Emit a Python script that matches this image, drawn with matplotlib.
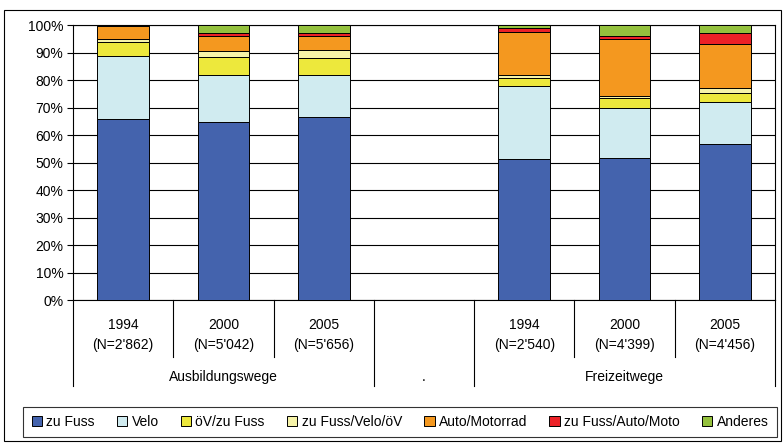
import matplotlib.pyplot as plt
from matplotlib.patches import Rectangle
from matplotlib.transforms import blended_transform_factory

plt.rcParams['font.family'] = ['Liberation Sans', 'DejaVu Sans']

# categories (middle slot is the empty "." group)
positions = [0, 1, 2, 4, 5, 6]
years = ['1994', '2000', '2005', '1994', '2000', '2005']
sample_sizes = ["(N=2'862)", "(N=5'042)", "(N=5'656)",
                "(N=2'540)", "(N=4'399)", "(N=4'456)"]
groups = ['Ausbildungswege', '.', 'Freizeitwege']

# shares in percent, per mode
modes = ['zu Fuss', 'Velo', 'öV/zu Fuss', 'zu Fuss/Velo/öV',
         'Auto/Motorrad', 'zu Fuss/Auto/Moto', 'Anderes']
zu_fuss = [65.7, 64.8, 66.4, 51.3, 51.5, 56.7]
velo = [23.2, 17.0, 15.4, 26.6, 18.2, 15.4]
oev_zu_fuss = [5.0, 6.7, 6.3, 2.9, 3.6, 3.1]
fuss_velo_oev = [1.0, 2.0, 2.8, 1.0, 1.0, 1.8]
auto_motorrad = [4.6, 5.6, 5.1, 15.8, 20.5, 16.0]
fuss_auto_moto = [0.2, 1.0, 1.0, 1.4, 1.3, 4.1]
anderes = [0.3, 2.9, 3.0, 1.0, 3.9, 2.9]

series = [zu_fuss, velo, oev_zu_fuss, fuss_velo_oev,
          auto_motorrad, fuss_auto_moto, anderes]
colors = ['#4463ad', '#d0ebf0', '#ede83c', '#f6f3a8',
          '#f4981f', '#ec2127', '#94c13d']

FS = 10

fig = plt.figure(figsize=(7.84, 4.44), dpi=100)
ax = fig.add_axes([73 / 784, 144 / 444, 702 / 784, 275 / 444])

bottom = [0.0] * len(positions)
handles = []
for vals, col, lab in zip(series, colors, modes):
    bars = ax.bar(positions, vals, bottom=bottom, width=0.515, color=col,
                  edgecolor='black', linewidth=0.7, label=lab, zorder=3)
    handles.append(bars)
    bottom = [b + v for b, v in zip(bottom, vals)]

ax.set_xlim(-0.5, 6.5)
ax.set_ylim(0, 100)
ax.set_yticks(range(0, 101, 10))
ax.set_yticklabels([f'{t}%' for t in range(0, 101, 10)], fontsize=FS)
ax.yaxis.grid(True, color='black', linewidth=0.8)
ax.set_axisbelow(True)
ax.tick_params(axis='y', direction='out', length=4, width=0.8, pad=3)
ax.set_xticks([])
for side in ['left', 'right', 'bottom', 'top']:
    ax.spines[side].set_linewidth(0.8)

# multi-level category axis
trans = blended_transform_factory(ax.transData, ax.transAxes)
for xb in [-0.5, 2.5, 3.5, 6.5]:
    ax.plot([xb, xb], [0, -0.313], color='black', lw=0.8,
            transform=trans, clip_on=False)
for xb in [0.5, 1.5, 4.5, 5.5]:
    ax.plot([xb, xb], [0, -0.207], color='black', lw=0.8,
            transform=trans, clip_on=False)
for x, yr, n in zip(positions, years, sample_sizes):
    ax.text(x, -0.09, yr, transform=trans, ha='center', va='center', fontsize=FS)
    ax.text(x, -0.165, n, transform=trans, ha='center', va='center', fontsize=FS)
for x, g in zip([1, 3, 5], groups):
    ax.text(x, -0.28, g, transform=trans, ha='center', va='center', fontsize=FS)

leg = fig.legend(handles, modes, loc='center',
                 bbox_to_anchor=(400 / 784, 1 - 422 / 444), ncol=7,
                 fontsize=FS, frameon=True, fancybox=False,
                 edgecolor='black', handlelength=0.75, handleheight=0.75,
                 handletextpad=0.3, columnspacing=1.6, borderpad=0.6)
leg.get_frame().set_linewidth(0.8)

# outer chart frame
fig.patches.append(Rectangle((4 / 784, 3 / 444), 777 / 784, 431 / 444,
                             transform=fig.transFigure, fill=False,
                             edgecolor='black', linewidth=0.8))

fig.savefig('out.png', dpi=100)
